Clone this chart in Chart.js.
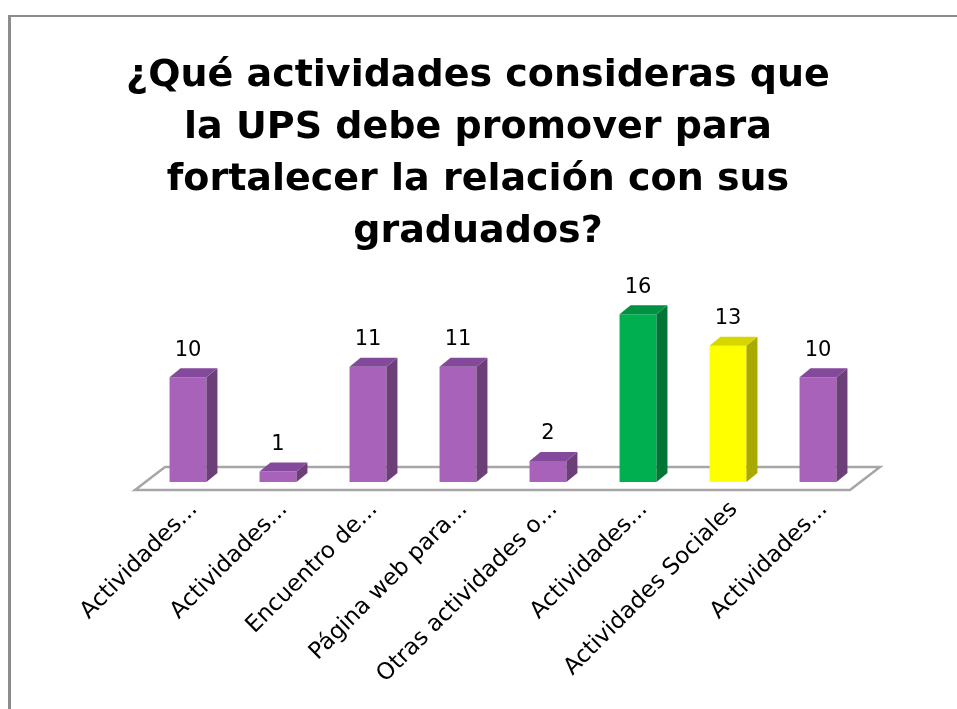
<!DOCTYPE html>
<html lang="es">
<head>
<meta charset="UTF-8">
<title>actividades UPS</title>
<script src="https://cdn.jsdelivr.net/npm/chart.js"></script>
<style>
  body { margin: 0; background: #fff; }
  #wrap { width: 957px; height: 709px; position: relative; }
</style>
</head>
<body>
<div id="wrap"><canvas id="myChart"></canvas></div>
<script>
// data
const titleLines = [
  '¿Qué actividades consideras que',
  'la UPS debe promover para',
  'fortalecer la relación con sus',
  'graduados?'
];
const labels = [
  'Actividades...',
  'Actividades...',
  'Encuentro de...',
  'Página web para...',
  'Otras actividades o...',
  'Actividades...',
  'Actividades Sociales',
  'Actividades...'
];
const values = [10, 1, 11, 11, 2, 16, 13, 10];

// colours: front / side / top of each bar
const frontColors = ['#a962b9', '#a962b9', '#a962b9', '#a962b9', '#a962b9', '#00b050', '#ffff00', '#a962b9'];
const sideColors  = ['#6c3f78', '#6c3f78', '#6c3f78', '#6c3f78', '#6c3f78', '#007536', '#a9a900', '#6c3f78'];
const topColors   = ['#83499a', '#83499a', '#83499a', '#83499a', '#83499a', '#009142', '#d6d600', '#83499a'];

const depthX = 11, depthY = 9;

// grey frame round the picture
const frame = {
  id: 'frame',
  beforeDraw(chart) {
    const ctx = chart.ctx;
    ctx.save();
    ctx.fillStyle = '#fff';
    ctx.fillRect(0, 0, chart.width, chart.height);
    ctx.fillStyle = '#8c8c8c';
    ctx.fillRect(8, 15, 3, chart.height - 15);
    ctx.fillRect(8, 15, chart.width - 8, 2);
    ctx.restore();
  }
};

// the floor under the bars
const floor3d = {
  id: 'floor3d',
  beforeDatasetsDraw(chart) {
    const ctx = chart.ctx;
    const { left, right } = chart.chartArea;
    const y0 = chart.scales.y.getPixelForValue(0);
    ctx.save();
    ctx.beginPath();
    ctx.moveTo(left - 8, y0 + 8);
    ctx.lineTo(right - 13, y0 + 8);
    ctx.lineTo(right + 17, y0 - 15);
    ctx.lineTo(left + 22, y0 - 15);
    ctx.closePath();
    ctx.fillStyle = '#fff';
    ctx.fill();
    ctx.lineWidth = 2.5;
    ctx.strokeStyle = '#a6a6a6';
    ctx.stroke();
    ctx.restore();
  }
};

// side and top faces, plus the value above each bar
const bars3d = {
  id: 'bars3d',
  afterDatasetsDraw(chart) {
    const ctx = chart.ctx;
    const meta = chart.getDatasetMeta(0);
    ctx.save();
    meta.data.forEach((bar, i) => {
      const l = bar.x - bar.width / 2, r = bar.x + bar.width / 2;
      const t = bar.y, b = bar.base;
      ctx.fillStyle = sideColors[i];
      ctx.beginPath();
      ctx.moveTo(r, b);
      ctx.lineTo(r + depthX, b - depthY);
      ctx.lineTo(r + depthX, t - depthY);
      ctx.lineTo(r, t);
      ctx.closePath();
      ctx.fill();
      ctx.fillStyle = topColors[i];
      ctx.beginPath();
      ctx.moveTo(l, t);
      ctx.lineTo(l + depthX, t - depthY);
      ctx.lineTo(r + depthX, t - depthY);
      ctx.lineTo(r, t);
      ctx.closePath();
      ctx.fill();

      ctx.fillStyle = '#000';
      ctx.font = '21px "DejaVu Sans"';
      ctx.textAlign = 'center';
      ctx.textBaseline = 'middle';
      ctx.fillText(String(values[i]), bar.x, t - 27);
    });
    ctx.restore();
  }
};

const data = {
  labels: labels,
  datasets: [{
    data: values,
    backgroundColor: frontColors,
    borderWidth: 0,
    categoryPercentage: 1,
    barPercentage: 0.41
  }]
};

const config = {
  type: 'bar',
  data: data,
  plugins: [frame, floor3d, bars3d],
  options: {
    responsive: false,
    animation: false,
    layout: { padding: { left: 93, right: 94, top: 0, bottom: 0 } },
    plugins: {
      legend: { display: false },
      tooltip: { enabled: false },
      title: {
        display: true,
        text: titleLines,
        color: '#000',
        font: { family: 'DejaVu Sans', size: 38, weight: 'bold', lineHeight: 1.37 },
        padding: { top: 50, bottom: 35 }
      }
    },
    scales: {
      x: {
        grid: { display: false },
        border: { display: false },
        afterFit(scale) { scale.height = 227; },
        ticks: {
          autoSkip: false,
          minRotation: 45,
          maxRotation: 45,
          padding: 6,
          labelOffset: 6,
          color: '#000',
          font: { family: 'DejaVu Sans', size: 23 }
        }
      },
      y: {
        display: true,
        min: 0,
        max: 18,
        grid: { display: false },
        border: { display: false },
        ticks: { display: false },
        afterFit(scale) { scale.width = 50; }
      }
    }
  }
};

const canvas = document.getElementById('myChart');
canvas.width = 957;
canvas.height = 709;
const myChart = new Chart(canvas, config);
</script>
</body>
</html>
